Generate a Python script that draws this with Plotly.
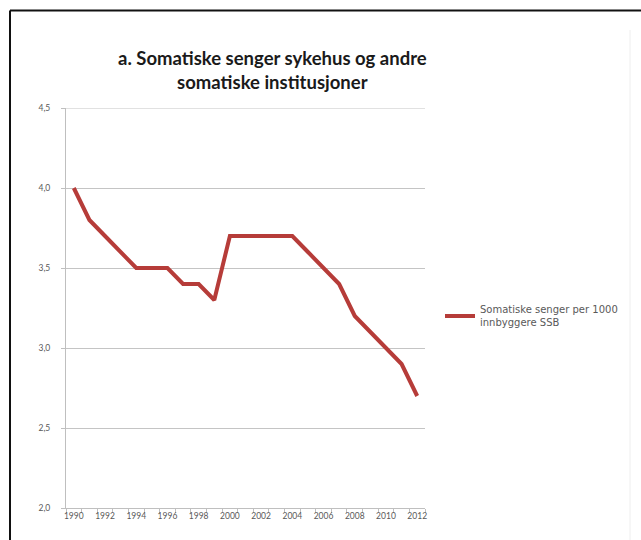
import plotly.graph_objects as go

years = list(range(1990, 2013))
values = [4.0, 3.8, 3.7, 3.6, 3.5, 3.5, 3.5, 3.4, 3.4, 3.3, 3.7, 3.7, 3.7, 3.7, 3.7,
          3.6, 3.5, 3.4, 3.2, 3.1, 3.0, 2.9, 2.7]
series_name = "Somatiske senger per 1000<br>innbyggere SSB"
title_text = "a. Somatiske senger sykehus og andre<br>somatiske institusjoner"
x_tickvals = list(range(1990, 2013, 2))
y_tickvals = [2.0, 2.5, 3.0, 3.5, 4.0, 4.5]

W, H = 641, 540
L, R, T, B = 66, 425, 108, 508

def px(x):
    return (x - L) / (R - L)

def py(y):
    return (B - y) / (B - T)

fig = go.Figure()
fig.add_trace(go.Scatter(
    x=years, y=values, mode="lines", name=series_name,
    line=dict(color="#b63c39", width=4), showlegend=True,
))

grey_txt = "#595959"
fig.update_layout(
    width=W, height=H,
    margin=dict(l=L, r=W - R, t=T, b=H - B),
    paper_bgcolor="white", plot_bgcolor="white",
    separators=", ",
    font=dict(family="Lato, 'Liberation Sans', sans-serif", size=8, color=grey_txt),
    showlegend=True,
    legend=dict(x=px(440), y=py(316), xanchor="left", yanchor="middle",
                font=dict(family="'DejaVu Sans', sans-serif", size=10, color=grey_txt),
                itemwidth=30, tracegroupgap=0,
                bgcolor="rgba(0,0,0,0)"),
    xaxis=dict(
        range=[1989.5, 2012.5], tickvals=x_tickvals,
        ticktext=[str(v) for v in x_tickvals],
        ticks="", showgrid=False, zeroline=False,
        showline=True, linecolor="#bfbfbf", linewidth=1,
        tickfont=dict(size=8.5, color=grey_txt),
        minor=dict(tick0=1989.5, dtick=1, ticks="outside", ticklen=4,
                   tickcolor="#bfbfbf", showgrid=False),
    ),
    yaxis=dict(
        range=[2.0, 4.5], tickvals=y_tickvals, tickformat=".1f",
        ticks="outside", ticklen=4, tickcolor="#bfbfbf",
        showgrid=True, gridcolor="#c4c4c4", gridwidth=1,
        zeroline=False, showline=True, linecolor="#bfbfbf", linewidth=1,
        tickfont=dict(size=8.5, color=grey_txt),
        ticklabelstandoff=9,
    ),
    annotations=[dict(
        text=title_text, x=px(272), y=py(70), xref="paper", yref="paper",
        xanchor="center", yanchor="middle", showarrow=False,
        font=dict(family="Lato, 'Liberation Sans', sans-serif", size=18.5,
                  color="#1a1a1a", weight="bold"),
    )],
    shapes=[
        dict(type="line", xref="paper", yref="y", layer="below",
             x0=0, x1=1, y0=4.5, y1=4.5,
             line=dict(color="#c4c4c4", width=1)),
        dict(type="line", xref="paper", yref="paper",
             x0=px(10), x1=px(10), y0=py(560), y1=py(10.5),
             line=dict(color="#111111", width=2)),
        dict(type="line", xref="paper", yref="paper",
             x0=px(10), x1=px(660), y0=py(10.5), y1=py(10.5),
             line=dict(color="#111111", width=2)),
        dict(type="line", xref="paper", yref="paper",
             x0=px(630), x1=px(630), y0=py(560), y1=py(30),
             line=dict(color="#eeeeee", width=1)),
    ],
)

fig.write_html("out.html")
